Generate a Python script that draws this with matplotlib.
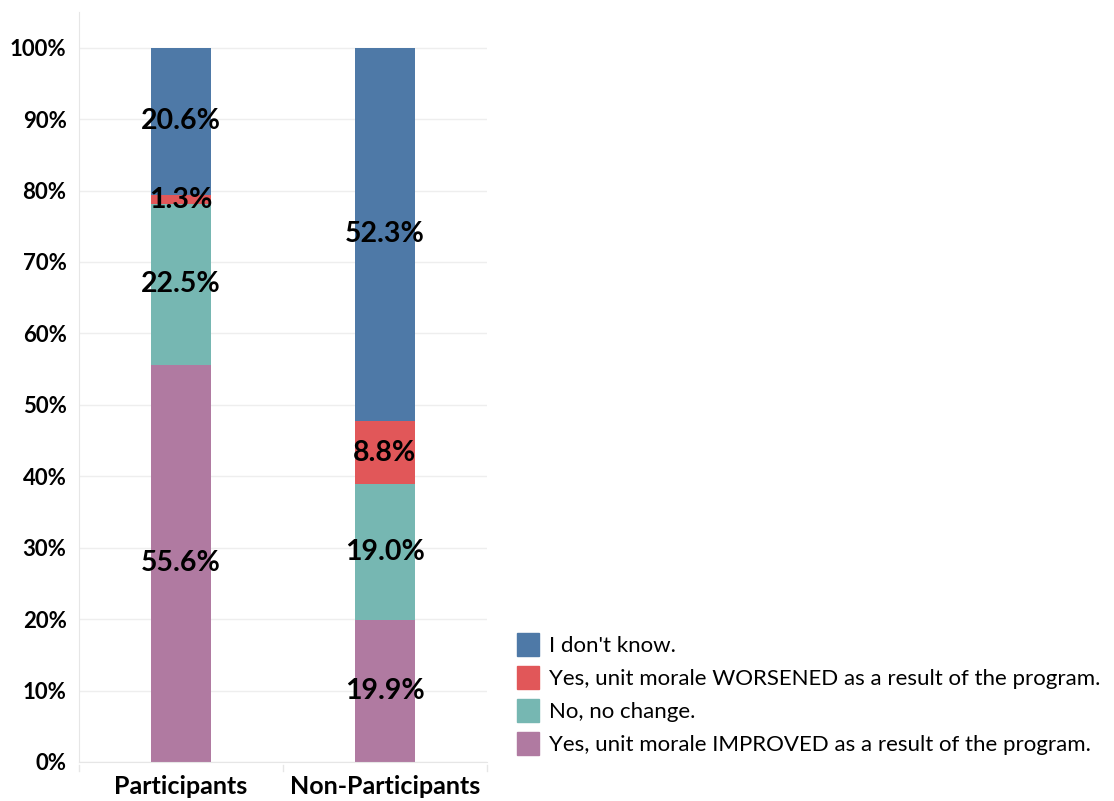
import matplotlib.pyplot as plt
from matplotlib.patches import Patch
import numpy as np

plt.rcParams['font.family'] = ['Lato', 'DejaVu Sans']

groups = ["Participants", "Non-Participants"]
improved = [55.6, 19.9]
no_change = [22.5, 19.0]
worsened = [1.3, 8.8]
dont_know = [20.6, 52.3]

series = [
    ("Yes, unit morale IMPROVED as a result of the program.", improved, "#b07aa1"),
    ("No, no change.", no_change, "#76b7b2"),
    ("Yes, unit morale WORSENED as a result of the program.", worsened, "#e15759"),
    ("I don't know.", dont_know, "#4e79a7"),
]

fig = plt.figure(figsize=(11.14, 8.01), dpi=100)
ax = fig.add_axes([79 / 1114, 39 / 801, 408 / 1114, 750 / 801])

x = np.arange(len(groups))
bottom = np.zeros(len(groups))
for name, vals, col in series:
    vals = np.array(vals)
    ax.bar(x, vals, width=0.294, bottom=bottom, color=col, zorder=2)
    for xi, b, v in zip(x, bottom, vals):
        ax.text(xi, b + v / 2, f"{v:.1f}%", ha="center", va="center",
                fontsize=20.5, fontweight="bold", color="black", zorder=3)
    bottom += vals

ax.set_xlim(-0.5, 1.5)
ax.set_ylim(0, 105)
ax.set_yticks(np.arange(0, 101, 10))
ax.set_yticklabels([f"{t}%" for t in range(0, 101, 10)], fontsize=16, fontweight="bold")
ax.set_xticks(x)
ax.set_xticklabels(groups, fontsize=18, fontweight="bold")
ax.tick_params(axis="y", length=0, pad=9)
ax.tick_params(axis="x", length=0, pad=9)
ax.grid(axis="y", color="#eeeeee", linewidth=1, zorder=0)

for s in ["top", "right"]:
    ax.spines[s].set_visible(False)
ax.spines["left"].set_color("#e6e6e6")
ax.spines["bottom"].set_color("#e6e6e6")

# separators under the category axis
for xs in [-0.5, 0.5, 1.5]:
    ax.plot([xs, xs], [-0.4, -1.2], color="#e6e6e6", lw=1, clip_on=False)

handles = [Patch(color=col, label=name) for name, _, col in reversed(series)]
fig.legend(handles=handles, loc="lower left", bbox_to_anchor=(497 / 1114, 26 / 801),
           frameon=False, fontsize=16, handlelength=1.0, handleheight=1.2,
           handletextpad=0.45, labelspacing=0.45)

fig.savefig("out.png", dpi=100)
